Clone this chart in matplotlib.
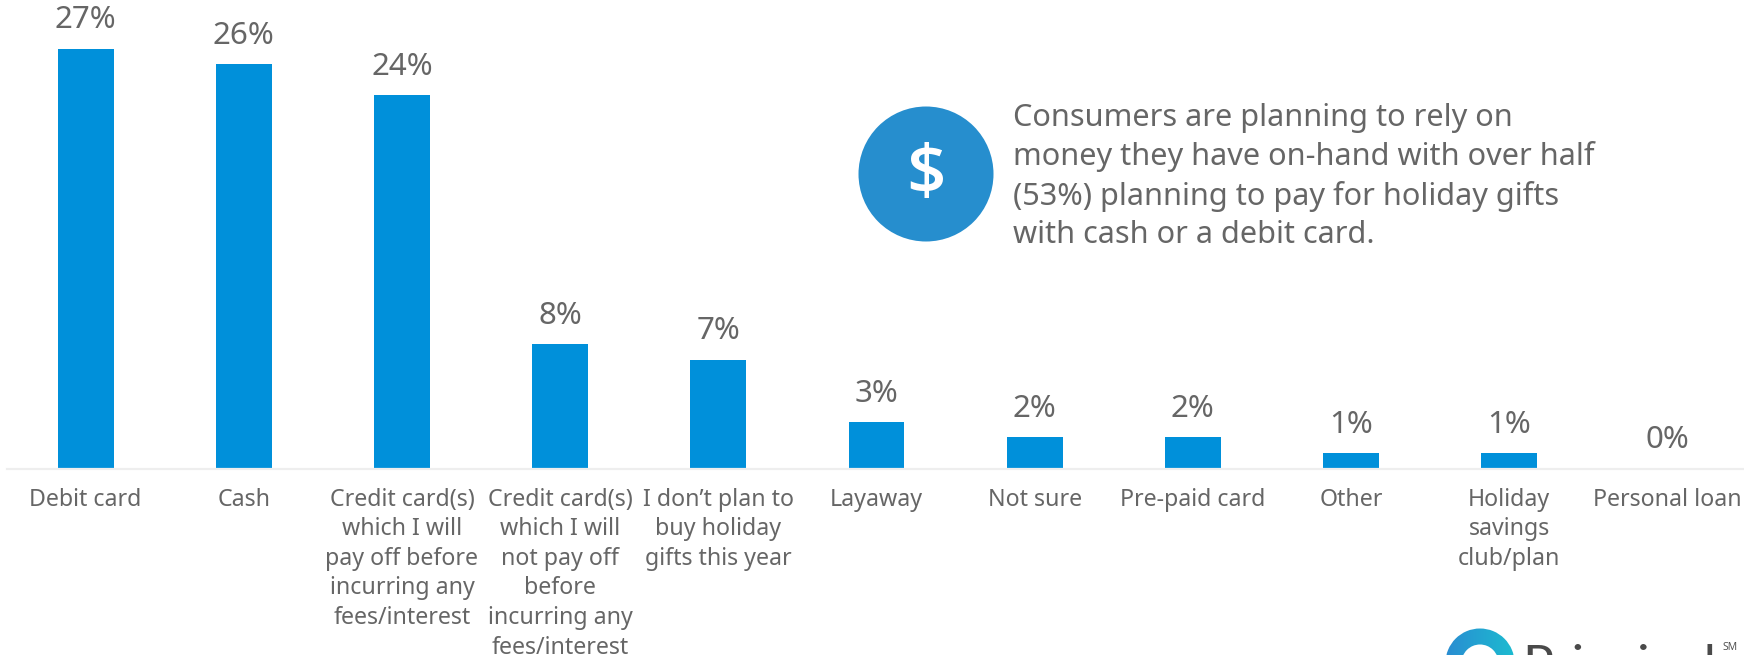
import numpy as np
import matplotlib
matplotlib.use("Agg")
import matplotlib.pyplot as plt
from matplotlib.patches import Circle, Wedge

categories = ["Debit card", "Cash",
              "Credit card(s)\nwhich I will\npay off before\nincurring any\nfees/interest",
              "Credit card(s)\nwhich I will\nnot pay off\nbefore\nincurring any\nfees/interest",
              "I don\u2019t plan to\nbuy holiday\ngifts this year",
              "Layaway", "Not sure", "Pre-paid card", "Other",
              "Holiday\nsavings\nclub/plan", "Personal loan"]
values = [27, 26, 24, 8, 7, 3, 2, 2, 1, 1, 0]
callout = ("Consumers are planning to rely on\n"
           "money they have on-hand with over half\n"
           "(53%) planning to pay for holiday gifts\n"
           "with cash or a debit card.")

W, H = 1744, 655
FONT = "Noto Sans"
GREY = "#666666"
fig = plt.figure(figsize=(W/100, H/100), dpi=100, facecolor="white")
ax = fig.add_axes([6.5/W, (H-468.5)/H, 1740/W, 468.5/H])
x = np.arange(len(categories))
ax.bar(x, values, width=0.354, color="#0090DA")
ax.set_xlim(-0.5, 10.5)
ax.set_ylim(0, 468.5/15.55)
for s in ["top", "left", "right"]:
    ax.spines[s].set_visible(False)
ax.spines["bottom"].set_color("#EEEEEE")
ax.spines["bottom"].set_linewidth(1.6)
ax.set_yticks([])
ax.set_xticks(x)
ax.set_xticklabels(categories, fontfamily=FONT, fontsize=16.7, color=GREY,
                   linespacing=1.31, va="top")
ax.tick_params(axis="x", length=0, pad=13.8)
for xi, v in zip(x, values):
    ax.annotate(f"{v}%", (xi, v), xytext=(0, 9.5), textcoords="offset points",
                ha="center", va="bottom", fontfamily=FONT, fontsize=22.5,
                color=GREY, annotation_clip=False)

ov = fig.add_axes([0, 0, 1, 1], facecolor="none")
ov.set_xlim(0, W)
ov.set_ylim(H, 0)
ov.axis("off")
ov.add_patch(Circle((926, 174), 67.5, color="#268ECE", lw=0))
ov.text(926, 177, "$", ha="center", va="center", fontfamily="Open Sans",
        fontsize=50, color="white", fontweight="semibold")
ov.text(1013, 176.5, callout, ha="left", va="center", fontfamily=FONT,
        fontsize=22.1, color=GREY, linespacing=1.36)

# logo cut off by the lower edge
grad = np.linspace(0, 1, 256).reshape(1, -1)
cmap = matplotlib.colors.LinearSegmentedColormap.from_list("logo", ["#2A8CD2", "#1CBCD0"])
im = ov.imshow(grad, extent=(1445, 1515, 700, 625), cmap=cmap, aspect="auto", zorder=3)
ring = Wedge((1480, 663), 34.5, 0, 360, width=16, transform=ov.transData)
im.set_clip_path(ring)
ov.set_xlim(0, W)
ov.set_ylim(H, 0)
ov.text(1522, 681, "Principal", ha="left", va="baseline", fontfamily="Lato",
        fontsize=37, color="#4A4A4A")
ov.text(1722, 648, "SM", ha="left", va="center", fontfamily="Open Sans",
        fontsize=7.5, color="#4A4A4A")

fig.savefig("out.png", dpi=100, facecolor="white")
